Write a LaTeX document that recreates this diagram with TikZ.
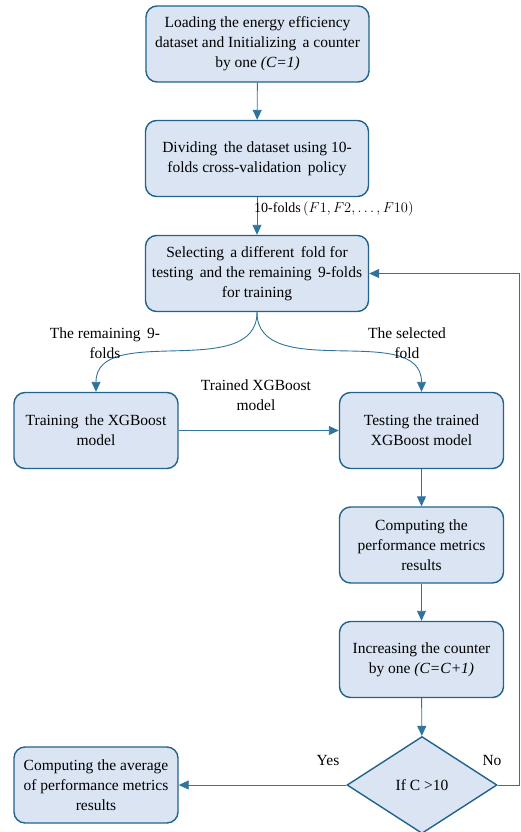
\documentclass[tikz,border=0pt]{standalone}
\usepackage{fontspec}
\setmainfont{Liberation Serif}
\usetikzlibrary{shapes.geometric,arrows.meta}
\definecolor{boxfill}{RGB}{218,228,243}
\definecolor{boxline}{RGB}{33,99,140}
\definecolor{flowline}{RGB}{48,116,158}

\begin{document}
\begin{tikzpicture}[x=1pt,y=-1pt,
    font=\fontsize{15.5}{20}\selectfont,
    box/.style={draw=boxline, line width=1.4pt, fill=boxfill, rounded corners=11pt, align=center, inner sep=2pt},
    bigbox/.style={box, minimum width=223pt, minimum height=76pt},
    smallbox/.style={box, minimum width=164pt, minimum height=76pt},
    flow/.style={draw=flowline, line width=0.9pt, -{Triangle[length=10pt,width=9pt]}},
    lbl/.style={align=center, inner sep=0pt}]
    \useasboundingbox (0,0) rectangle (520,832);
    % main column
    \node[bigbox] (load) at (257.5,44) {Loading the energy efficiency\\dataset and Initializing\, a counter\\by one \textit{(C=1)}};
    \node[bigbox] (divide) at (257,158.5) {Dividing\, the dataset using 10-\\folds cross-validation\, policy};
    \node[bigbox] (select) at (257,273.5) {Selecting\, a different\, fold for\\testing\, and the remaining\, 9-folds\\for training};
    % train / test
    \node[smallbox] (train) at (96,430.5) {Training\, the XGBoost\\model};
    \node[smallbox] (test) at (421.5,430.5) {Testing the trained\\XGBoost model};
    % right column
    \node[smallbox] (metric) at (421.5,545) {Computing the\\performance metrics\\results};
    \node[smallbox] (increase) at (421.5,659.5) {Increasing the counter\\by one \textit{(C=C+1)}};
    % decision
    \node[draw=boxline, line width=1.4pt, fill=boxfill, shape=diamond, aspect=1.56,
          minimum width=150pt, minimum height=97pt, inner sep=0pt] (cond) at (422,785) {If C >10};
    % result
    \node[smallbox] (avg) at (96,785) {Computing the average\\of performance metrics\\results};
    % connectors
    \draw[flow] (load) -- (divide);
    \draw[flow] (divide) -- (select);
    \node[lbl, anchor=west, font=\fontsize{14}{17}\selectfont] (folds) at (254,209) {10-folds\,$(F1, F2, \ldots, F10)$};
    \draw[flow] (select.south) to[out=-90,in=90] (train.north);
    \draw[flow] (select.south) to[out=-90,in=90] (test.north);
    \node[lbl] (remain) at (105,343) {The remaining\, 9-\\folds};
    \node[lbl] (chosen) at (407,343) {The selected\\fold};
    \draw[flow] (train) -- (test);
    \node[lbl] (model) at (256,395) {Trained XGBoost\\model};
    \draw[flow] (test) -- (metric);
    \draw[flow] (metric) -- (increase);
    \draw[flow] (increase) -- (cond);
    \draw[flow] (cond) -- (avg);
    \node[lbl] (yes) at (328,760) {Yes};
    \node[lbl] (no) at (492,760) {No};
    % loop back
    \coordinate (back) at (519,273.5);
    \draw[flow] (cond.east) -| (back) -- (select.east);
\end{tikzpicture}
\end{document}
